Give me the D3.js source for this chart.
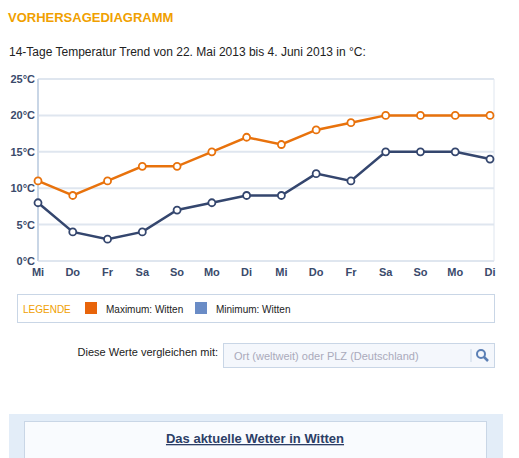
<!DOCTYPE html>
<html><head><meta charset="utf-8">
<script src="https://cdn.jsdelivr.net/npm/d3@7"></script>
<style>body{margin:0;background:#fff;font-family:Arial,"Liberation Sans",sans-serif;}</style>
</head><body><svg id="c" width="519" height="458"></svg>
<script>
const days = ['Mi','Do','Fr','Sa','So','Mo','Di','Mi','Do','Fr','Sa','So','Mo','Di'];
const maxTemp = [11,9,11,13,13,15,17,16,18,19,20,20,20,20];
const minTemp = [8,4,3,4,7,8,9,9,12,11,15,15,15,14];
const yTicks = [0,5,10,15,20,25];

const svg = d3.select('#c');
const x = d3.scalePoint().domain(d3.range(days.length)).range([38, 490]);
const y = d3.scaleLinear().domain([0, 25]).range([261, 79]);

svg.append('text').attr('x', 8).attr('y', 22).attr('fill', '#f0a000')
  .attr('font-size', 13).attr('font-weight', 'bold').text('VORHERSAGEDIAGRAMM');
svg.append('text').attr('x', 9).attr('y', 56).attr('fill', '#222')
  .attr('font-size', 12).text('14-Tage Temperatur Trend von 22. Mai 2013 bis 4. Juni 2013 in °C:');

// grid
svg.selectAll('.grid').data(yTicks).enter().append('line')
  .attr('x1', 38).attr('x2', 494).attr('y1', d => y(d)).attr('y2', d => y(d))
  .attr('stroke', '#dfe6ef').attr('stroke-width', 2);
svg.append('line').attr('x1', 38).attr('x2', 38).attr('y1', 79).attr('y2', 261).attr('stroke', '#c9d6e6').attr('stroke-width', 2);
svg.append('line').attr('x1', 494).attr('x2', 494).attr('y1', 79).attr('y2', 261).attr('stroke', '#dfe6ef').attr('stroke-width', 1);

svg.selectAll('.yl').data(yTicks).enter().append('text')
  .attr('x', 35).attr('y', d => y(d) + 4).attr('text-anchor', 'end')
  .attr('fill', '#3a4a6b').attr('font-size', 11).attr('font-weight', 'bold').text(d => d + '°C');
svg.selectAll('.xl').data(days).enter().append('text')
  .attr('x', (d, i) => x(i)).attr('y', 276).attr('text-anchor', 'middle')
  .attr('fill', '#3a4a6b').attr('font-size', 11).attr('font-weight', 'bold').text(d => d);

function series(vals, color) {
  svg.append('path').datum(vals)
    .attr('d', d3.line().x((d, i) => x(i)).y(d => y(d)))
    .attr('fill', 'none').attr('stroke', color).attr('stroke-width', 2.5);
  svg.selectAll(null).data(vals).enter().append('circle')
    .attr('cx', (d, i) => x(i)).attr('cy', d => y(d)).attr('r', 3.5)
    .attr('fill', '#fff').attr('stroke', color).attr('stroke-width', 1.8);
}
series(maxTemp, '#e8720c');
series(minTemp, '#34466e');

// legend
svg.append('rect').attr('x', 17.5).attr('y', 294.5).attr('width', 477).attr('height', 28)
  .attr('fill', '#fff').attr('stroke', '#c9d6e6');
svg.append('text').attr('x', 23).attr('y', 313).attr('fill', '#f0a000').attr('font-size', 10).text('LEGENDE');
svg.append('rect').attr('x', 85).attr('y', 302).attr('width', 12).attr('height', 12).attr('fill', '#e8640a');
svg.append('text').attr('x', 106).attr('y', 313).attr('fill', '#222').attr('font-size', 10).text('Maximum: Witten');
svg.append('rect').attr('x', 195).attr('y', 302).attr('width', 12).attr('height', 12).attr('fill', '#6a8cc6');
svg.append('text').attr('x', 216).attr('y', 313).attr('fill', '#222').attr('font-size', 10).text('Minimum: Witten');

// compare row
svg.append('text').attr('x', 218).attr('y', 356).attr('text-anchor', 'end').attr('fill', '#222').attr('font-size', 11).text('Diese Werte vergleichen mit:');
svg.append('rect').attr('x', 223.5).attr('y', 343.5).attr('width', 271).attr('height', 24)
  .attr('fill', '#f4f7fc').attr('stroke', '#c9d6e6');
svg.append('text').attr('x', 234).attr('y', 360).attr('fill', '#aab').attr('font-size', 11).text('Ort (weltweit) oder PLZ (Deutschland)');
svg.append('line').attr('x1', 471).attr('x2', 471).attr('y1', 349).attr('y2', 362).attr('stroke', '#c9d6e6');
svg.append('circle').attr('cx', 481).attr('cy', 354).attr('r', 4).attr('fill', 'none').attr('stroke', '#5b7fb5').attr('stroke-width', 2);
svg.append('line').attr('x1', 484).attr('y1', 357).attr('x2', 488).attr('y2', 361).attr('stroke', '#5b7fb5').attr('stroke-width', 2.5);

// bottom
svg.append('rect').attr('x', 9).attr('y', 414).attr('width', 494).attr('height', 44).attr('fill', '#e3edf8');
svg.append('rect').attr('x', 24.5).attr('y', 421.5).attr('width', 462).attr('height', 40)
  .attr('fill', '#f9fbfe').attr('stroke', '#c9d6e6');
svg.append('text').attr('x', 255).attr('y', 443).attr('text-anchor', 'middle').attr('fill', '#2c3e66')
  .attr('font-size', 13).attr('font-weight', 'bold').attr('text-decoration', 'underline').text('Das aktuelle Wetter in Witten');
</script></body></html>
